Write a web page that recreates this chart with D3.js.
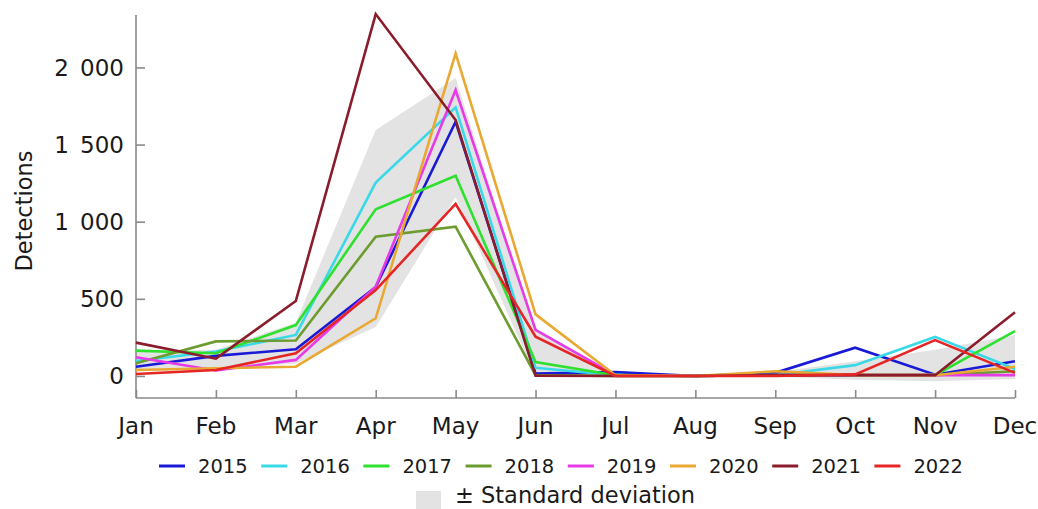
<!DOCTYPE html>
<html>
<head>
<meta charset="utf-8">
<script src="https://cdn.jsdelivr.net/npm/d3@7"></script>
<style>
  html, body { margin: 0; padding: 0; background: #fff; }
  svg { display: block; font-family: "DejaVu Sans", Verdana, sans-serif; }
</style>
</head>
<body>
<svg id="chart" width="1038" height="509"></svg>
<script>
// Monthly detections per year
const months = ["Jan", "Feb", "Mar", "Apr", "May", "Jun", "Jul", "Aug", "Sep", "Oct", "Nov", "Dec"];
const years = ["2015", "2016", "2017", "2018", "2019", "2020", "2021", "2022"];
const s2015 = [60, 130, 173, 577, 1648, 15, 25, 0, 20, 183, 8, 95];
const s2016 = [97, 158, 266, 1253, 1741, 53, 5, 0, 5, 70, 253, 45];
const s2017 = [164, 147, 330, 1080, 1298, 90, 5, 0, 5, 5, 5, 290];
const s2018 = [82, 224, 230, 903, 968, 5, 0, 0, 5, 5, 5, 30];
const s2019 = [121, 35, 104, 579, 1854, 298, 5, 0, 5, 5, 5, 5];
const s2020 = [39, 50, 60, 374, 2091, 399, 5, 0, 30, 5, 5, 60];
const s2021 = [216, 112, 486, 2346, 1659, 2, 0, 0, 5, 5, 5, 413];
const s2022 = [13, 39, 147, 557, 1115, 254, 0, 0, 0, 10, 232, 20];
// Mean ± standard deviation envelope
const bandUpper = [160, 170, 345, 1594, 1931, 290, 15, 3, 25, 95, 170, 265];
const bandLower = [30, 45, 80, 318, 1160, 0, -5, -3, -5, -25, -35, -20];
const yTicks = [0, 500, 1000, 1500, 2000];
const colors = ["#1a1ad6", "#3ad9e8", "#2fe02f", "#6c9c30", "#e63be6", "#e8a832", "#8b1c2c", "#e42626"];

const seriesValues = [s2015, s2016, s2017, s2018, s2019, s2020, s2021, s2022];

const svg = d3.select("#chart");
const plotLeft = 136, plotRight = 1015, plotTop = 15, plotBottom = 398;

const x = d3.scalePoint().domain(months).range([plotLeft, plotRight]);
const y = d3.scaleLinear().domain([-143, 2340]).range([plotBottom, plotTop]);

const axisColor = "#8a8a8a";
const textColor = "#1a1a1a";
const fmt = v => d3.format(",")(v).replace(/,/g, " ");

// Standard deviation band
const band = months.map((m, i) => ({ m, lo: bandLower[i], hi: bandUpper[i] }));
svg.append("path")
  .datum(band)
  .attr("fill", "#e3e3e3")
  .attr("d", d3.area().x(d => x(d.m)).y0(d => y(d.lo)).y1(d => y(d.hi)));

// Axes
const yAxis = svg.append("g")
  .attr("transform", `translate(${plotLeft},0)`)
  .call(d3.axisRight(y).tickValues(yTicks).tickSize(9).tickFormat(""));
const xAxis = svg.append("g")
  .attr("transform", `translate(0,${plotBottom})`)
  .call(d3.axisTop(x).tickSize(8).tickFormat(""));
[yAxis, xAxis].forEach(g => {
  g.selectAll("path.domain").attr("stroke", axisColor).attr("stroke-width", 1.6);
  g.selectAll(".tick line").attr("stroke", axisColor).attr("stroke-width", 1.6);
});
// Axis lines meet at the corner
yAxis.select("path.domain").attr("d", `M0,${plotTop}V${plotBottom}`);
xAxis.select("path.domain").attr("d", `M${plotLeft},0H${plotRight}`);

// Tick labels
svg.append("g").selectAll("text")
  .data(yTicks)
  .join("text")
  .attr("x", 124)
  .attr("y", d => y(d))
  .attr("dy", "0.36em")
  .attr("text-anchor", "end")
  .attr("font-size", 23)
  .attr("word-spacing", 4)
  .attr("fill", textColor)
  .text(fmt);

svg.append("g").selectAll("text")
  .data(months)
  .join("text")
  .attr("x", d => x(d))
  .attr("y", 434)
  .attr("text-anchor", "middle")
  .attr("font-size", 23)
  .attr("fill", textColor)
  .text(d => d);

svg.append("text")
  .attr("transform", "translate(32,211) rotate(-90)")
  .attr("text-anchor", "middle")
  .attr("font-size", 22.5)
  .attr("fill", textColor)
  .text("Detections");

// Year lines
const line = d3.line().x((d, i) => x(months[i])).y(d => y(d));
svg.append("g").selectAll("path")
  .data(seriesValues)
  .join("path")
  .attr("fill", "none")
  .attr("stroke", (d, i) => colors[i])
  .attr("stroke-width", 2.6)
  .attr("stroke-linejoin", "miter")
  .attr("d", line);

// Legend
const legend = svg.append("g");
const items = legend.selectAll("g")
  .data(years)
  .join("g")
  .attr("transform", (d, i) => `translate(${159 + i * 102.2},466)`);
items.append("line")
  .attr("x1", 0).attr("x2", 26)
  .attr("stroke", (d, i) => colors[i])
  .attr("stroke-width", 3);
items.append("text")
  .attr("x", 39)
  .attr("dy", "0.36em")
  .attr("font-size", 19.5)
  .attr("fill", textColor)
  .text(d => d);

legend.append("rect")
  .attr("x", 416).attr("y", 491)
  .attr("width", 25).attr("height", 25)
  .attr("fill", "#e3e3e3");
legend.append("text")
  .attr("x", 455).attr("y", 495)
  .attr("dy", "0.36em")
  .attr("font-size", 22.5)
  .attr("fill", textColor)
  .text("± Standard deviation");
</script>
</body>
</html>
